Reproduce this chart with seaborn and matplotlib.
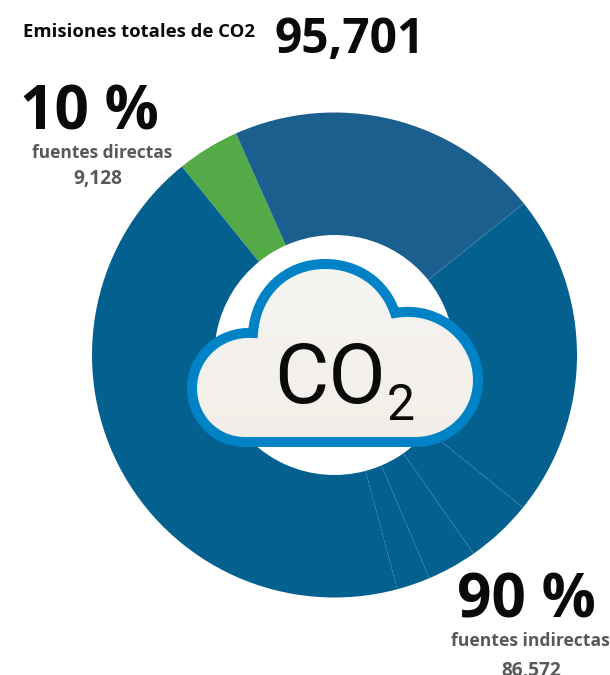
import numpy as np
import matplotlib
matplotlib.use("Agg")
import matplotlib.pyplot as plt
import seaborn as sns
from matplotlib.path import Path
from matplotlib.patches import PathPatch

categories = ["Directas", "Indirecta A", "Indirecta B", "Indirecta C", "Indirecta D", "Indirecta E", "Indirecta F"]
values = [3990, 20020, 20650, 4250, 3190, 2130, 41471]
slice_colors = ["#54aa46", "#1a5f8e", "#03608f", "#03608f", "#03608f", "#03608f", "#03608f"]
title_label = "Emisiones totales de CO2"
total_label = "95,701"
direct_pct = "10 %"
direct_label = "fuentes directas"
direct_value = "9,128"
indirect_pct = "90 %"
indirect_label = "fuentes indirectas"
indirect_value = "86,572"

sns.set_theme(style="white", rc={"figure.facecolor": "white", "axes.facecolor": "none"})
plt.rcParams["font.family"] = ["Open Sans", "DejaVu Sans"]

W, H = 610, 675
fig = plt.figure(figsize=(W / 100, H / 100), dpi=100)

# donut
cx, cy, R, r = 334.5, 355, 242.5, 120
ax = fig.add_axes([(cx - R) / W, 1 - (cy + R) / H, 2 * R / W, 2 * R / H])
palette = sns.color_palette(slice_colors)
start = 129
ax.pie(values, colors=palette, startangle=start, counterclock=False, radius=1,
       wedgeprops=dict(width=1 - r / R, linewidth=0))
ax.set_xlim(-1, 1)
ax.set_ylim(-1, 1)
ax.set_aspect("equal")
ax.axis("off")

# separators between blue slices, from the cumulative values
cum = np.cumsum(values) / np.sum(values) * 360
for a in cum[1:5]:
    th = np.deg2rad(start - a)
    ax.plot([r / R * np.cos(th), np.cos(th)], [r / R * np.sin(th), np.sin(th)],
            color="#3f7fa6", lw=0.6, ls=(0, (2, 0.8)) if a > cum[2] + 20 else "-", alpha=.8)

# overlay in pixel coordinates
ov = fig.add_axes([0, 0, 1, 1])
ov.set_xlim(0, W)
ov.set_ylim(H, 0)
ov.axis("off")

verts = [(245, 442),
         (215, 442), (192, 418), (192, 388),
         (192, 358), (218, 331), (253, 333),
         (256, 292), (286, 264), (325, 264),
         (358, 264), (385, 283), (395, 313),
         (440, 305), (478, 340), (478, 380),
         (478, 415), (450, 442), (415, 442),
         (245, 442)]
codes = [Path.MOVETO] + [Path.CURVE4] * 18 + [Path.LINETO]
cloud = Path(verts, codes)
grad = np.linspace(0, 1, 200)[:, None, None]
c0, c1 = np.array([0.961, 0.961, 0.949]), np.array([0.953, 0.933, 0.910])
img = ov.imshow(c0 + (c1 - c0) * grad, extent=(185, 485, 445, 260), aspect="auto", zorder=2)
ov.set_xlim(0, W)
ov.set_ylim(H, 0)
clip = PathPatch(cloud, transform=ov.transData, fc="none", ec="none")
ov.add_patch(clip)
img.set_clip_path(clip)
ov.add_patch(PathPatch(cloud, fc="none", ec="#0083c6", lw=7.2, zorder=3, joinstyle="miter"))

def t(x, y, s, size, ha="left", color="#0a0a0a", weight="bold", family=None):
    ov.text(x, y, s, fontsize=size, ha=ha, va="baseline", color=color, fontweight=weight, zorder=4,
            family=family if family else plt.rcParams["font.family"])

gray = "#58595b"
t(23, 37, title_label, 13.3)
t(274, 53, total_label, 34.5)
t(20, 129, direct_pct, 43.5)
t(102, 158, direct_label, 12.5, ha="center", color=gray)
t(98, 184, direct_value, 13.8, ha="center", color=gray)
t(457, 618, indirect_pct, 43.5)
t(530, 646, indirect_label, 12.6, ha="center", color=gray)
t(531, 676, indirect_value, 13.8, ha="center", color=gray)
t(274, 403, "CO", 60, weight="normal", family="Roboto")
t(387, 420, "2", 36, weight="normal", family="Roboto")

fig.savefig("out.png", dpi=100)
